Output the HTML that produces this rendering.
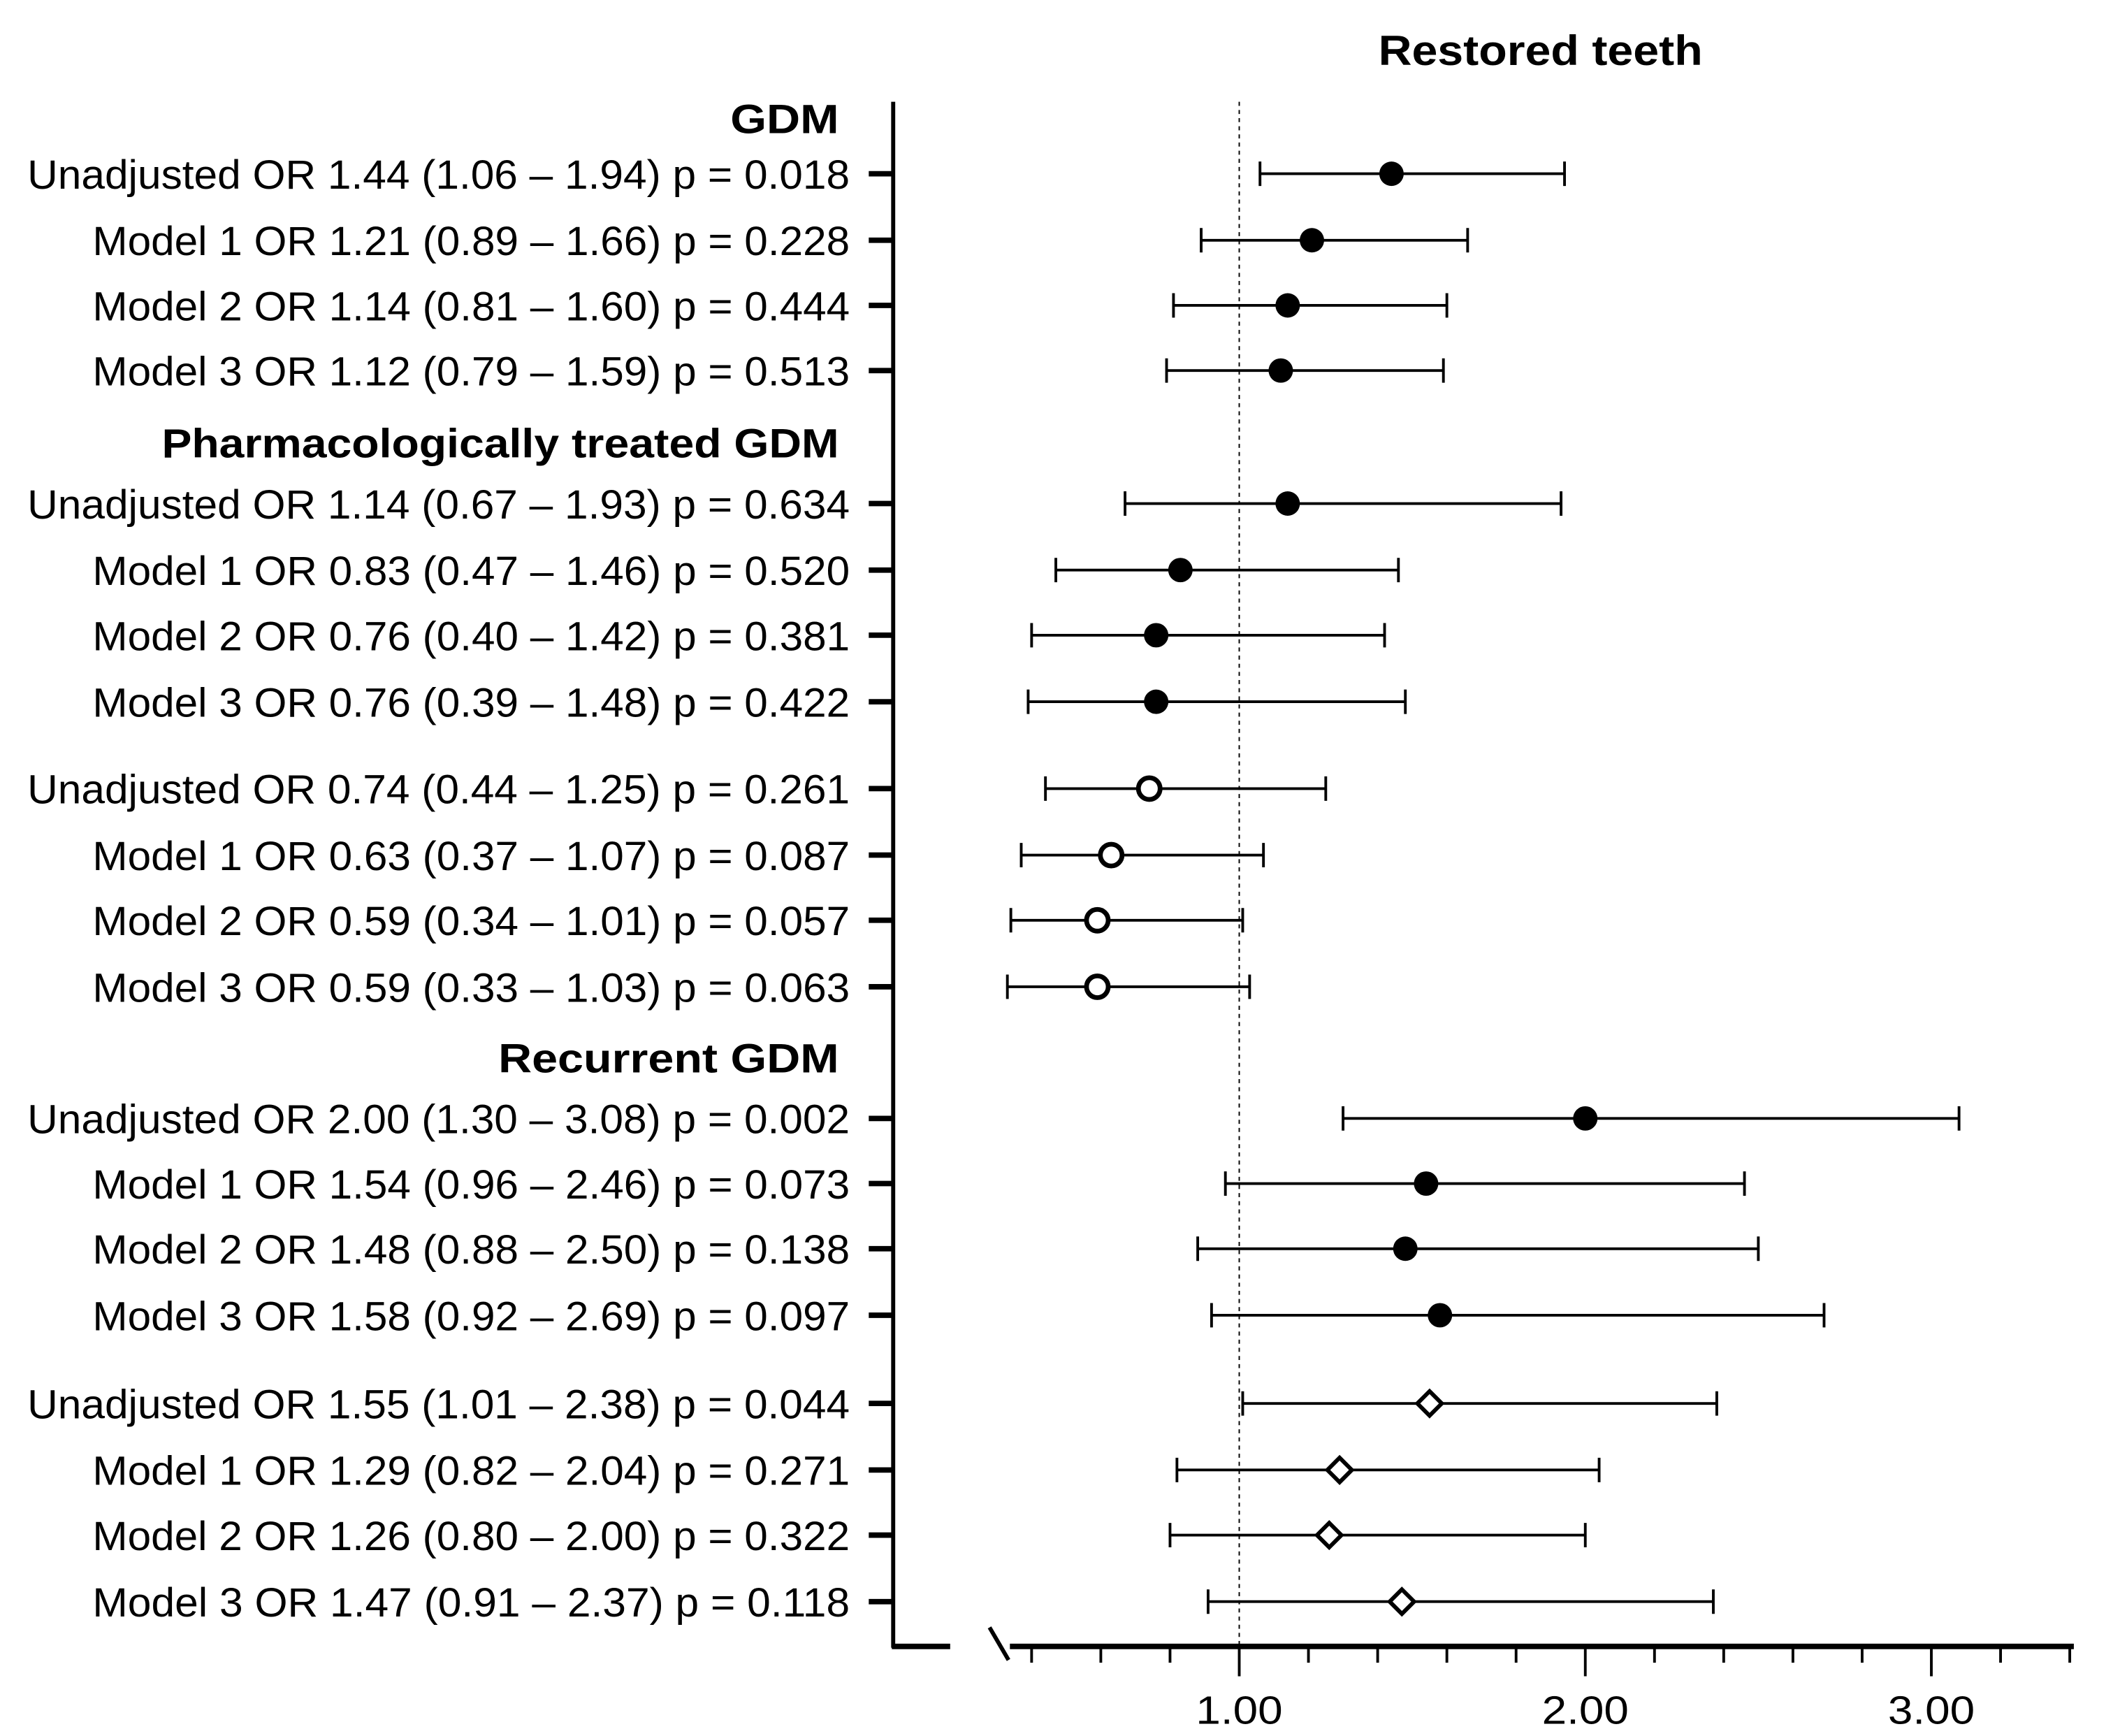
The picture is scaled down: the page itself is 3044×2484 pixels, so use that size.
<!DOCTYPE html>
<html><head><meta charset="utf-8"><style>html,body{margin:0;padding:0;background:#fff}svg{display:block}</style></head>
<body>
<svg id="chart" xmlns="http://www.w3.org/2000/svg" width="3044" height="2484" viewBox="0 0 1567 1279" font-family="'Liberation Sans', Arial, sans-serif">
<text x="1135" y="48" font-size="31" font-weight="bold" text-anchor="middle" textLength="239" lengthAdjust="spacingAndGlyphs">Restored teeth</text>
<g id="plot"></g>
</svg>
<script>
const labels = [
"Unadjusted OR 1.44 (1.06 – 1.94) p = 0.018","Model 1 OR 1.21 (0.89 – 1.66) p = 0.228","Model 2 OR 1.14 (0.81 – 1.60) p = 0.444","Model 3 OR 1.12 (0.79 – 1.59) p = 0.513",
"Unadjusted OR 1.14 (0.67 – 1.93) p = 0.634","Model 1 OR 0.83 (0.47 – 1.46) p = 0.520","Model 2 OR 0.76 (0.40 – 1.42) p = 0.381","Model 3 OR 0.76 (0.39 – 1.48) p = 0.422",
"Unadjusted OR 0.74 (0.44 – 1.25) p = 0.261","Model 1 OR 0.63 (0.37 – 1.07) p = 0.087","Model 2 OR 0.59 (0.34 – 1.01) p = 0.057","Model 3 OR 0.59 (0.33 – 1.03) p = 0.063",
"Unadjusted OR 2.00 (1.30 – 3.08) p = 0.002","Model 1 OR 1.54 (0.96 – 2.46) p = 0.073","Model 2 OR 1.48 (0.88 – 2.50) p = 0.138","Model 3 OR 1.58 (0.92 – 2.69) p = 0.097",
"Unadjusted OR 1.55 (1.01 – 2.38) p = 0.044","Model 1 OR 1.29 (0.82 – 2.04) p = 0.271","Model 2 OR 1.26 (0.80 – 2.00) p = 0.322","Model 3 OR 1.47 (0.91 – 2.37) p = 0.118"];
const orValues = [1.44,1.21,1.14,1.12,1.14,0.83,0.76,0.76,0.74,0.63,0.59,0.59,2.00,1.54,1.48,1.58,1.55,1.29,1.26,1.47];
const lowValues = [1.06,0.89,0.81,0.79,0.67,0.47,0.40,0.39,0.44,0.37,0.34,0.33,1.30,0.96,0.88,0.92,1.01,0.82,0.80,0.91];
const highValues = [1.94,1.66,1.60,1.59,1.93,1.46,1.42,1.48,1.25,1.07,1.01,1.03,3.08,2.46,2.50,2.69,2.38,2.04,2.00,2.37];
const markerTypes = ["filled","filled","filled","filled","filled","filled","filled","filled","open","open","open","open","filled","filled","filled","filled","diamond","diamond","diamond","diamond"];
const headers = ["GDM","Pharmacologically treated GDM","Recurrent GDM"];
const headerRows = [0,4,12];
const tickLabels = ["1.00","2.00","3.00"];
const tickValues = [1,2,3];

const NS="http://www.w3.org/2000/svg";
const g=document.getElementById('plot');
const rowY=[128,177,225,273,371,420,468,517,581,630,678,727,824,872,920,969,1034,1083,1131,1180];
const headerY={0:87,4:326,12:779};
const headerW=[80,499,251];
const xs=v=>913+(v-1)*255;
function mk(t,a,p){const e=document.createElementNS(NS,t);for(const k in a)e.setAttribute(k,a[k]);(p||g).appendChild(e);return e;}
let e;
e=mk('line',{x1:658,y1:75,x2:658,y2:1214,stroke:'#000','stroke-width':3});


e=mk('line',{x1:657,y1:1213,x2:700,y2:1213,stroke:'#000','stroke-width':4});


e=mk('line',{x1:744,y1:1213,x2:1528,y2:1213,stroke:'#000','stroke-width':4});


e=mk('line',{x1:729,y1:1199,x2:743,y2:1223,stroke:'#000','stroke-width':3});


e=mk('line',{x1:913,y1:75,x2:913,y2:1213,stroke:'#000','stroke-width':1,'stroke-dasharray':'3,3'});


for(let i=0;i<=15;i++){const v=0.4+i*0.2;const x=xs(v);const major=Math.abs(v-Math.round(v))<1e-6;
 e=mk('line',{x1:x,y1:1213,x2:x,y2:major?1235:1225,stroke:'#000','stroke-width':2});
 
 }
tickValues.forEach((v,i)=>{e=mk('text',{x:xs(v),y:1270,'font-size':29,'text-anchor':'middle',textLength:64,lengthAdjust:'spacingAndGlyphs'});e.textContent=tickLabels[i];
 
 });
headers.forEach((h,i)=>{const y=headerY[headerRows[i]];
 e=mk('text',{x:618,y:y+11,'font-size':30,'font-weight':'bold','text-anchor':'end',textLength:headerW[i],lengthAdjust:'spacingAndGlyphs'});e.textContent=h;
 
 });
labels.forEach((l,i)=>{const y=rowY[i];
 const w=l.startsWith('Unadjusted')?606:558;
 e=mk('text',{x:626,y:y+11,'font-size':30,'text-anchor':'end',textLength:w,lengthAdjust:'spacingAndGlyphs'});e.textContent=l;
 
 
 e=mk('line',{x1:640,y1:y,x2:658,y2:y,stroke:'#000','stroke-width':4});
 
 
 const x1=xs(lowValues[i]),x2=xs(highValues[i]),xm=xs(orValues[i]);
 e=mk('path',{d:`M${x1},${y-9}V${y+9}M${x1},${y}H${x2}M${x2},${y-9}V${y+9}`,stroke:'#000','stroke-width':2,fill:'none'});
 
 
 if(markerTypes[i]==='filled')e=mk('circle',{cx:xm,cy:y,r:9,fill:'#000'});
 else if(markerTypes[i]==='open')e=mk('circle',{cx:xm,cy:y,r:8,fill:'#fff',stroke:'#000','stroke-width':3.5});
 else e=mk('path',{d:`M${xm},${y-9}L${xm+9},${y}L${xm},${y+9}L${xm-9},${y}Z`,fill:'#fff',stroke:'#000','stroke-width':3});
 
 
});
</script>
</body></html>
